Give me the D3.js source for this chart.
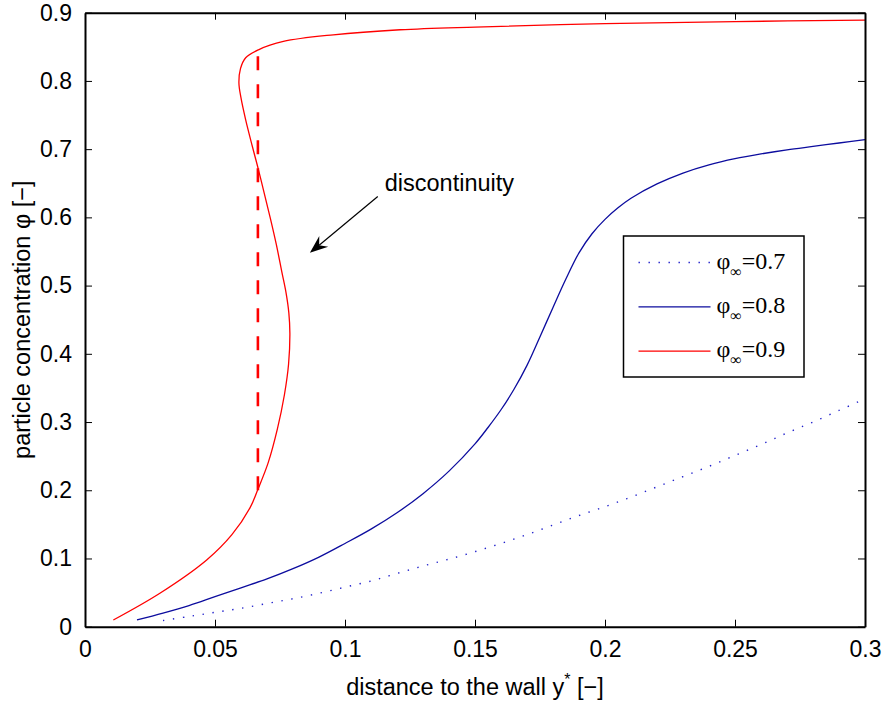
<!DOCTYPE html>
<html>
<head>
<meta charset="utf-8">
<script src="https://cdn.jsdelivr.net/npm/d3@7"></script>
<style>
  body { margin: 0; background: #fff; }
  svg { display: block; font-family: "Liberation Sans", Arial, sans-serif; }
</style>
</head>
<body>
<svg id="chart"></svg>
<script>
const W = 883, H = 703;
const margin = { top: 12.7, right: 18, bottom: 76.3, left: 85 };

// phi_inf = 0.7 (dotted)
const x07 = [0.03, 0.04, 0.05, 0.06, 0.07, 0.08, 0.09, 0.10, 0.11, 0.12, 0.13, 0.14, 0.15,
             0.16, 0.17, 0.18, 0.19, 0.20, 0.21, 0.22, 0.23, 0.24, 0.25, 0.26, 0.27, 0.28, 0.29, 0.30];
const y07 = [0.009, 0.015, 0.021, 0.027, 0.034, 0.041, 0.049, 0.058, 0.067, 0.078, 0.089, 0.099, 0.110,
             0.122, 0.135, 0.149, 0.163, 0.176, 0.190, 0.205, 0.220, 0.235, 0.251, 0.267, 0.284, 0.300, 0.317, 0.334];

// phi_inf = 0.8 (solid blue)
const x08 = [0.02, 0.03, 0.04, 0.05, 0.06, 0.07, 0.08, 0.09, 0.10, 0.11, 0.12, 0.13, 0.14, 0.15, 0.155,
             0.16, 0.165, 0.17, 0.175, 0.18, 0.185, 0.19, 0.195, 0.20, 0.205, 0.21, 0.22, 0.23, 0.24,
             0.25, 0.26, 0.27, 0.28, 0.29, 0.30];
const y08 = [0.010, 0.020, 0.031, 0.044, 0.057, 0.070, 0.085, 0.102, 0.122, 0.143, 0.167, 0.195, 0.228, 0.268, 0.292,
             0.318, 0.348, 0.383, 0.425, 0.468, 0.510, 0.548, 0.576, 0.597, 0.614, 0.628, 0.649, 0.665, 0.677,
             0.686, 0.693, 0.699, 0.704, 0.709, 0.714];

// phi_inf = 0.9 (solid red, S-shaped so it is drawn in order of y)
const x09 = [0.0109, 0.0288, 0.0468, 0.0565, 0.0635, 0.0664, 0.0704, 0.0740, 0.0767, 0.0783, 0.0788,
             0.0784, 0.0773, 0.0757, 0.0736, 0.0712, 0.0689, 0.0667, 0.0643, 0.0618, 0.0600, 0.0592,
             0.0598, 0.0618, 0.0667, 0.0763, 0.0955, 0.1212, 0.15, 0.20, 0.25, 0.30];
const y09 = [0.0098, 0.049, 0.0978, 0.1349, 0.1745, 0.2004, 0.2397, 0.2900, 0.3400, 0.385, 0.430,
             0.460, 0.490, 0.520, 0.560, 0.600, 0.636, 0.670, 0.705, 0.743, 0.775, 0.797,
             0.818, 0.834, 0.8456, 0.8578, 0.8676, 0.875, 0.879, 0.884, 0.887, 0.889];

// discontinuity jump
const jumpX = 0.0665;
const jumpY = [0.2, 0.84];

// annotation arrow (tail -> tip) and label
const arrowTail = [0.1126, 0.6305];
const arrowTip = [0.0865, 0.548];
const noteText = "discontinuity";

const xTicks = [0, 0.05, 0.1, 0.15, 0.2, 0.25, 0.3];
const yTicks = [0, 0.1, 0.2, 0.3, 0.4, 0.5, 0.6, 0.7, 0.8, 0.9];
const legendLabels = ["0.7", "0.8", "0.9"];

const svg = d3.select('#chart')
    .attr('width', W)
    .attr('height', H);

const x = d3.scaleLinear()
    .domain([0, 0.3])
    .range([margin.left, W - margin.right]);

const y = d3.scaleLinear()
    .domain([0, 0.9])
    .range([H - margin.bottom, margin.top]);

// lines
const line = d3.line()
    .x(d => x(d[0]))
    .y(d => y(d[1]))
    .curve(d3.curveCatmullRom.alpha(0.5));

const series = [
    { pts: d3.zip(x07, y07), color: '#2222cc', width: 1.4, dash: '1.4,8.6' },
    { pts: d3.zip(x08, y08), color: '#0c0c9e', width: 1.3, dash: null },
    { pts: d3.zip(x09, y09), color: '#ff0000', width: 1.3, dash: null }
];

svg.selectAll('path.series')
    .data(series)
    .join('path')
    .attr('class', 'series')
    .attr('fill', 'none')
    .attr('stroke', d => d.color)
    .attr('stroke-width', d => d.width)
    .attr('stroke-dasharray', d => d.dash)
    .attr('d', d => line(d.pts));

// dashed jump
svg.append('line')
    .attr('x1', x(jumpX)).attr('x2', x(jumpX))
    .attr('y1', y(jumpY[0])).attr('y2', y(jumpY[1]))
    .attr('stroke', '#ff0000')
    .attr('stroke-width', 2.6)
    .attr('stroke-dasharray', '14,14');

// axes
const tick = 7;
const fmt = d => String(d);

const gx = svg.append('g')
    .attr('transform', `translate(0, ${H - margin.bottom})`)
    .call(d3.axisBottom(x).tickValues(xTicks).tickFormat(fmt).tickSizeInner(-tick).tickSizeOuter(0).tickPadding(14));
const gy = svg.append('g')
    .attr('transform', `translate(${margin.left}, 0)`)
    .call(d3.axisLeft(y).tickValues(yTicks).tickFormat(fmt).tickSizeInner(-tick).tickSizeOuter(0).tickPadding(13));
const gt = svg.append('g')
    .attr('transform', `translate(0, ${margin.top})`)
    .call(d3.axisTop(x).tickValues(xTicks).tickFormat('').tickSizeInner(-tick).tickSizeOuter(0));
const gr = svg.append('g')
    .attr('transform', `translate(${W - margin.right}, 0)`)
    .call(d3.axisRight(y).tickValues(yTicks).tickFormat('').tickSizeInner(-tick).tickSizeOuter(0));

[gx, gy, gt, gr].forEach(g => {
    g.select('.domain').attr('stroke', '#000').attr('stroke-width', 2);
    g.selectAll('.tick line').attr('stroke', '#000').attr('stroke-width', 1);
    g.selectAll('.tick text')
        .attr('fill', '#000')
        .style('font-size', '23px')
        .style('font-family', '"Liberation Sans", Arial, sans-serif');
});

// axis labels
svg.append('text')
    .attr('x', (x.range()[0] + x.range()[1]) / 2)
    .attr('y', 695)
    .attr('text-anchor', 'middle')
    .style('font-size', '23.5px')
    .html('distance to the wall y<tspan dy="-10" font-size="16px">*</tspan><tspan dy="10"> [\u2212]</tspan>');

svg.append('text')
    .attr('transform', `translate(30, ${(y.range()[0] + y.range()[1]) / 2}) rotate(-90)`)
    .attr('text-anchor', 'middle')
    .style('font-size', '23.5px')
    .text('particle concentration \u03c6 [\u2212]');

// annotation
const tx = x(arrowTip[0]), ty = y(arrowTip[1]);
const sx = x(arrowTail[0]), sy = y(arrowTail[1]);
const ang = Math.atan2(ty - sy, tx - sx);
const headLen = 18, headHalf = 7, notch = 12;
const hp = (along, side) => [
    tx - along * Math.cos(ang) - side * Math.sin(ang),
    ty - along * Math.sin(ang) + side * Math.cos(ang)
];
svg.append('line')
    .attr('x1', sx).attr('y1', sy)
    .attr('x2', hp(notch, 0)[0]).attr('y2', hp(notch, 0)[1])
    .attr('stroke', '#000').attr('stroke-width', 1.2);
svg.append('path')
    .attr('d', 'M' + [[tx, ty], hp(headLen, headHalf), hp(notch, 0), hp(headLen, -headHalf)].join('L') + 'Z')
    .attr('fill', '#000');
svg.append('text')
    .attr('x', sx + 7)
    .attr('y', sy - 6)
    .style('font-size', '23.5px')
    .text(noteText);

// legend
const lg = svg.append('g').attr('transform', 'translate(623.5, 236)');
lg.append('rect')
    .attr('width', 180.5).attr('height', 141)
    .attr('fill', '#fff').attr('stroke', '#000').attr('stroke-width', 1.5);
const rows = lg.selectAll('g.row')
    .data(series)
    .join('g')
    .attr('class', 'row')
    .attr('transform', (d, i) => `translate(0, ${26.5 + i * 44.3})`);
rows.append('line')
    .attr('x1', 15).attr('x2', 87)
    .attr('stroke', d => d.color)
    .attr('stroke-width', d => d.width)
    .attr('stroke-dasharray', d => d.dash);
const lt = rows.append('text')
    .attr('x', 93)
    .attr('y', 6)
    .style('font-family', '"Liberation Serif", "Times New Roman", serif')
    .style('font-size', '24px');
lt.append('tspan').text('\u03c6');
lt.append('tspan').attr('dy', 8).style('font-size', '16px').text('\u221e');
lt.append('tspan').attr('dy', -8).text((d, i) => '=' + legendLabels[i]);
</script>
</body>
</html>
